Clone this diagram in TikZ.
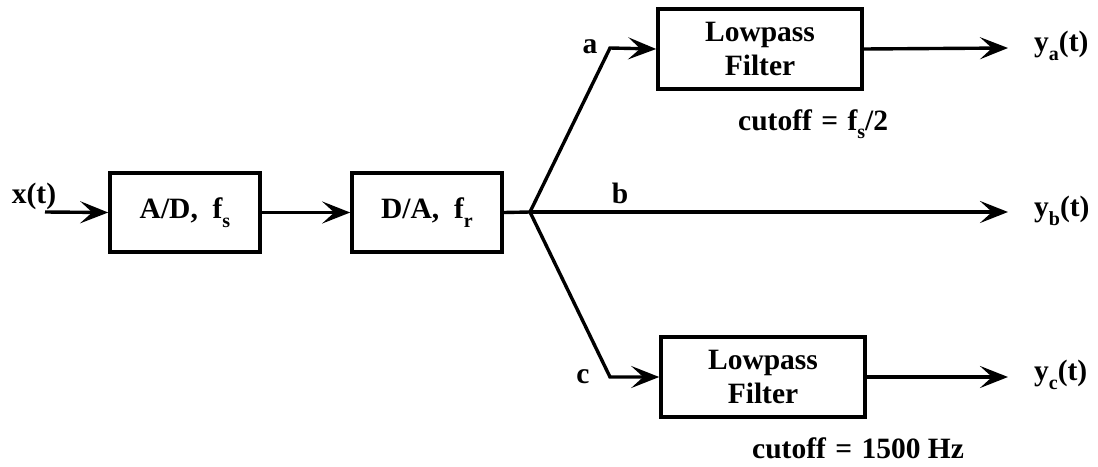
\documentclass[tikz,border=0pt]{standalone}
\usepackage{fontspec}
\setmainfont{Liberation Serif}
\usetikzlibrary{arrows.meta}
\newcommand{\lowsub}[1]{\raisebox{-0.3em}{\fontsize{20}{20}\selectfont #1}}
\newcommand{\eqsp}{\hspace{0.32em}}
\begin{document}
\begin{tikzpicture}[x=1pt,y=-1pt,
  every node/.style={font=\fontsize{29.5}{34}\selectfont\bfseries, inner sep=0pt},
  blk/.style={draw, line width=3.6pt, minimum width=150pt, minimum height=79pt, align=center},
  filt/.style={draw, line width=3.6pt, minimum width=204pt, minimum height=80pt, align=center},
  conn/.style={line width=3.4pt},
  arr/.style={conn, -{Stealth[length=28pt, width=22pt, inset=12pt]}}]
\useasboundingbox (0,0) rectangle (1098,466);
\node[blk] (ad) at (185,212.5) {A/D,\ \ f\lowsub{s}};
\node[blk] (da) at (427,212.5) {D/A,\ \ f\lowsub{r}};
\node[filt] (fa) at (760,49) {Lowpass\\Filter};
\node[filt] (fc) at (763,377) {Lowpass\\Filter};
\coordinate (in) at (45,212);
\coordinate (br) at (530,212);
\coordinate (ka) at (610,48);
\coordinate (kc) at (610,377);
\coordinate (oa) at (1008,48);
\coordinate (ob) at (1008,212);
\coordinate (oc) at (1008,377);
\node[anchor=base] (xl) at (34,203) {x(t)};
\node[anchor=base] (la) at (590,53) {a};
\node[anchor=base] (lb) at (620,203) {b};
\node[anchor=base] (lc) at (583,383) {c};
\node[anchor=west] (ya) at (1034,46) {y\lowsub{a}(t)};
\node[anchor=west] (yb) at (1034,211) {y\lowsub{b}(t)};
\node[anchor=west] (yc) at (1034,375) {y\lowsub{c}(t)};
\node[anchor=base west] (ca) at (738,130) {cutoff\eqsp=\eqsp f\lowsub{s}/2};
\node[anchor=base west] (cc) at (752,458) {cutoff\eqsp=\eqsp 1500 Hz};
\draw[arr] (in) -- (ad.west);
\draw[arr] (ad.east) -- (da.west);
\draw[conn] (da.east) -- (br);
\draw[arr, line join=miter] (br) -- (ka) -- (fa.west);
\draw[arr, line join=miter] (br) -- (kc) -- (fc.west);
\draw[arr] (br) -- (ob);
\draw[arr] (fa.east) -- (oa);
\draw[arr] (fc.east) -- (oc);
\end{tikzpicture}
\end{document}
